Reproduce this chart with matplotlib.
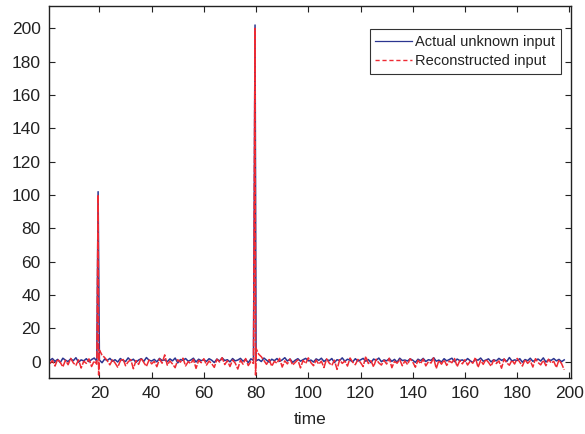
"""
Actual vs reconstructed unknown input, redrawn from a MATLAB-style figure.
"""

import matplotlib

matplotlib.use("Agg")
import matplotlib.pyplot as plt
from matplotlib.lines import Line2D
import numpy as np


# base sampling instants 1..198 and the noisy baseline
time_base = np.arange(1, 199)

actual_base = [
    0.8, 1.9, 0.2, 1.4, -0.5, 2.1, 0.9, 0.1, 1.7, 0.6, 2.4, -0.3, 1.1, 0.5, 1.8, 0.0, 1.3, 2.2, 0.4, 1.0,
    -0.6, 1.6, 0.7, 2.0, 0.3, 1.2, -0.2, 1.9, 0.8, 0.1, 2.3, 0.6, 1.5, -0.4, 1.0, 1.8, 0.2, 2.5, 0.9, 0.4,
    1.4, -0.1, 2.0, 0.7, 1.1, 0.0, 1.7, 0.5, 2.2, -0.7, 1.3, 0.8, 1.9, 0.3, 1.0, 2.1, -0.2, 1.5, 0.6, 1.2,
    0.2, 1.8, 0.9, -0.5, 1.6, 0.4, 2.3, 0.7, 1.2, -0.1, 1.9, 0.5, 1.0, 2.0, 0.3, 1.4, -0.6, 1.7, 0.8, 0.6,
    1.3, 0.1, 2.2, 0.9, -0.3, 1.5, 0.6, 1.9, 0.2, 1.1, 2.4, 0.4, 1.6, -0.4, 0.9, 1.8, 0.3, 1.2, 2.0, 0.5,
    1.0, -0.2, 1.7, 0.8, 2.1, 0.1, 1.4, 0.6, 1.9, -0.5, 1.2, 0.7, 2.3, 0.2, 1.5, 0.9, -0.1, 1.8, 0.4, 1.1,
    2.0, 0.3, 1.3, -0.6, 1.6, 0.8, 2.2, 0.0, 1.1, 0.5, 1.9, 0.2, 1.4, -0.3, 2.1, 0.7, 1.0, 0.4, 1.7, 0.9,
    -0.4, 1.5, 0.6, 2.0, 0.1, 1.2, 0.8, 2.4, 0.3, 1.0, -0.2, 1.8, 0.5, 1.3, 2.1, 0.0, 1.6, 0.7, 1.1, 0.2,
    1.9, 0.6, -0.5, 1.4, 0.9, 2.2, 0.3, 1.0, 1.7, -0.1, 1.2, 0.5, 2.0, 0.8, 1.5, 0.1, 2.5, 0.4, 1.1, 0.7,
    1.8, -0.3, 1.3, 0.6, 2.1, 0.2, 1.0, 1.6, 0.4, 2.3, -0.2, 1.2, 0.8, 1.9, 0.5, 1.4, 0.0, 1.1,
]

recon_base = [
    -1.2, 0.8, -2.6, 1.5, -0.4, -3.1, 0.9, -1.8, 2.0, -0.7, -2.2, 1.1, -3.8, 0.3, -1.0, 1.7, -2.9, 0.5, -1.5, 7.0,
    4.0, 2.5, 0.6, -1.9, 1.2, -0.8, -3.3, 0.4, 1.9, -2.4, -0.1, 1.3, -4.2, 0.7, -1.6, 2.2, -0.5, -2.8, 1.0, -1.3,
    0.2, -3.0, 1.6, -0.9, 4.1, -2.1, 0.5, -1.4, -3.6, 1.2, -0.3, 2.1, -2.5, 0.0, -1.1, 1.4, -4.0, 0.8, -0.6, 1.8,
    -2.0, 0.4, -1.2, -3.4, 1.5, -0.2, 2.4, -1.7, 0.6, -2.9, 1.0, -0.8, -4.4, 0.9, -1.5, 1.9, -2.3, 0.1, -1.0, 8.0,
    4.5, 3.0, 0.7, -1.6, 1.3, -2.7, 0.2, -0.9, 2.0, -3.2, 0.5, -1.3, 1.6, -2.0, -0.4, 1.1, -3.7, 0.8, -1.1, 2.3,
    -0.6, -2.4, 1.0, -1.5, 0.3, -3.5, 1.7, -0.8, -2.2, 0.9, -4.6, 1.2, -1.0, 0.4, -2.6, 2.2, -0.3, -1.8, 1.4, -0.5,
    -2.9, 3.2, -1.1, 0.6, -3.1, 1.5, -0.7, -2.0, 0.8, -1.4, 2.1, -3.6, 0.2, -0.9, 1.3, -2.4, 0.5, -1.7, 1.8, -0.2,
    -3.3, 0.9, -1.2, 1.6, -2.5, 0.0, -0.8, 2.3, -4.1, 0.7, -1.5, 1.1, -2.2, 0.4, -0.6, 1.9, -3.0, 0.6, -1.3, 1.2,
    -2.0, 0.3, -0.9, 2.5, -3.4, 0.8, -1.6, 1.4, -0.4, -2.7, 1.0, -1.1, 0.5, -3.9, 1.7, -0.7, -2.1, 0.9, -1.4, 2.0,
    -0.3, -2.6, 1.3, -1.0, 0.6, -3.2, 1.8, -0.5, -1.9, 0.9, -2.4, 1.5, -0.8, 0.2, -3.5, 1.1, -1.2, -4.8,
]

# impulses in the unknown input
actual_spike_t = [19.5, 79.6]
actual_spike_v = [102.0, 202.0]

# reconstruction follows the impulse, with an undershoot right after it
recon_spike_t = [19.5, 19.7, 79.6, 79.8]
recon_spike_v = [100.0, -8.0, 200.0, -8.0]


def merge(t_base, v_base, t_extra, v_extra):
    t = np.concatenate([np.asarray(t_base, float), np.asarray(t_extra, float)])
    v = np.concatenate([np.asarray(v_base, float), np.asarray(v_extra, float)])
    order = np.argsort(t, kind="stable")
    return t[order], v[order]


t_act, v_act = merge(time_base, actual_base, actual_spike_t, actual_spike_v)
t_rec, v_rec = merge(time_base, recon_base, recon_spike_t, recon_spike_v)

plt.rcParams["font.family"] = ["Liberation Sans", "DejaVu Sans"]
text_col = "#222222"
blue = "#2b3590"
red = "#ee2a33"

fig = plt.figure(figsize=(5.85, 4.34), dpi=100)
ax = fig.add_axes([0.0838, 0.1297, 0.8918, 0.8565])

ax.plot(t_act, v_act, color=blue, lw=1.1)
ax.plot(t_rec, v_rec, color=red, lw=1.1, ls="--", dashes=(5, 1))

ax.set_xlim(0.7, 200.5)
ax.set_ylim(-9.6, 213.4)
ax.set_xticks(np.arange(20, 201, 20))
ax.set_yticks(np.arange(0, 201, 20))

ax.tick_params(direction="in", length=4, width=0.8, top=True, right=True,
               labelsize=12.5, colors=text_col, pad=6)
for sp in ax.spines.values():
    sp.set_linewidth(1.0)
    sp.set_color(text_col)

ax.set_xlabel("time", fontsize=12.5, color=text_col, labelpad=8)

handles = [
    Line2D([], [], color=blue, lw=0.9),
    Line2D([], [], color=red, lw=1.0, ls="--", dashes=(3, 2)),
]
labels = ["Actual unknown input", "Reconstructed input"]
leg = ax.legend(handles, labels, loc="upper right", bbox_to_anchor=(0.9805, 0.938),
                fontsize=10.5, frameon=True, fancybox=False, handlelength=2.5,
                handletextpad=0.2, borderpad=0.4, labelspacing=0.38, borderaxespad=0.0)
leg.get_frame().set_edgecolor("black")
leg.get_frame().set_linewidth(0.8)
for txt in leg.get_texts():
    txt.set_color(text_col)

fig.savefig("out.png", dpi=100)
plt.close(fig)
